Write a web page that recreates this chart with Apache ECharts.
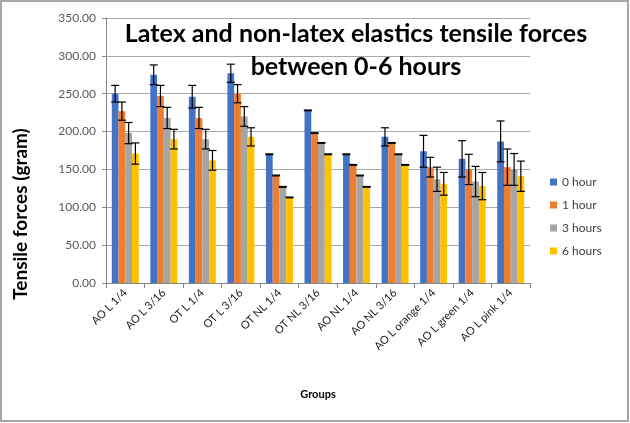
<!DOCTYPE html>
<html>
<head>
<meta charset="utf-8">
<script src="https://cdn.jsdelivr.net/npm/echarts@6/dist/echarts.min.js"></script>
<style>
  html, body { margin: 0; padding: 0; background: #fff; }
  #chart { width: 630px; height: 423px; }
</style>
</head>
<body>
<div id="chart"></div>
<script>
  // groups on the x axis
  var groups = ['AO L 1/4', 'AO L 3/16', 'OT L 1/4', 'OT L 3/16', 'OT NL 1/4', 'OT NL 3/16',
    'AO NL 1/4', 'AO NL 3/16', 'AO L orange 1/4', 'AO L green 1/4', 'AO L pink 1/4']

  var seriesNames = ['0 hour', '1 hour', '3 hours', '6 hours']

  // mean tensile force (gram)
  var hour0 = [250, 275, 246, 277, 170, 228, 170, 193, 174, 164, 187]
  var hour1 = [227, 247, 218, 250, 142, 198, 156, 185, 153, 150, 153]
  var hour3 = [198, 218, 190, 220, 127, 185, 142, 170, 137, 134, 150]
  var hour6 = [171, 190, 162, 193, 113, 170, 127, 156, 131, 128, 141]

  // standard deviation (error bars)
  var err0 = [11, 13, 15, 12, 0.5, 0.5, 0.5, 12, 21, 24, 27]
  var err1 = [12, 14, 14, 12, 0.5, 0.5, 0.5, 0.5, 13, 20, 24]
  var err3 = [14, 14, 13, 13, 0.5, 0.5, 0.5, 0.5, 16, 20, 21]
  var err6 = [14, 13, 13, 12, 0.5, 0.5, 0.5, 0.5, 15, 18, 20]

  var colors = ['#4472C4', '#ED7D31', '#A5A5A5', '#FFC000']
  var values = [hour0, hour1, hour3, hour6]
  var errors = [err0, err1, err3, err6]

  var GROUP_FRAC = 0.7

  function errorBar(idx) {
    return function (params, api) {
      var x = api.value(0)
      var v = api.value(1)
      var e = api.value(2)
      var band = api.size([1, 0])[0]
      var barW = band * GROUP_FRAC / 4
      var cx = api.coord([x, v])[0] - band * GROUP_FRAC / 2 + barW * (idx + 0.5)
      var top = api.coord([x, v + e])[1]
      var bot = api.coord([x, v - e])[1]
      var hw = 4
      var style = {stroke: '#000', lineWidth: 1.2}
      return {
        type: 'group',
        children: [
          {type: 'line', shape: {x1: cx, y1: top, x2: cx, y2: bot}, style: style},
          {type: 'line', shape: {x1: cx - hw, y1: top, x2: cx + hw, y2: top}, style: style},
          {type: 'line', shape: {x1: cx - hw, y1: bot, x2: cx + hw, y2: bot}, style: style}
        ]
      }
    }
  }

  var series = []
  values.forEach(function (vals, i) {
    series.push({
      name: seriesNames[i],
      type: 'bar',
      barGap: '0%',
      barCategoryGap: '30%',
      itemStyle: {color: colors[i]},
      data: vals,
      z: 2
    })
  })
  values.forEach(function (vals, i) {
    series.push({
      type: 'custom',
      renderItem: errorBar(i),
      encode: {x: 0, y: 1},
      data: vals.map(function (v, k) { return [k, v, errors[i][k]] }),
      z: 3,
      silent: true
    })
  })

  var chart = echarts.init(document.getElementById('chart'))
  chart.setOption({
    animation: false,
    textStyle: {fontFamily: 'Lato'},
    title: {
      text: 'Latex and non-latex elastics tensile forces\nbetween 0-6 hours',
      left: 356,
      top: 17,
      textAlign: 'center',
      padding: 0,
      z: 10,
      textStyle: {
        fontFamily: 'Lato',
        fontSize: 25,
        fontWeight: 'bold',
        color: '#000',
        lineHeight: 33,
        align: 'center'
      }
    },
    legend: {
      orient: 'vertical',
      left: 545,
      top: 171,
      icon: 'rect',
      itemWidth: 7,
      itemHeight: 7,
      itemGap: 11,
      data: seriesNames,
      textStyle: {fontSize: 12, color: '#404040', fontFamily: 'Lato'}
    },
    grid: {left: 106, right: 100, top: 18, bottom: 140},
    xAxis: {
      type: 'category',
      data: groups,
      axisLine: {lineStyle: {color: '#868686'}},
      axisTick: {show: true, length: 5, lineStyle: {color: '#868686'}},
      axisLabel: {rotate: 45, fontSize: 11, color: '#202020', margin: 8, interval: 0},
      name: 'Groups',
      nameLocation: 'middle',
      nameGap: 106,
      nameTextStyle: {fontSize: 11, fontWeight: 'bold', color: '#000'}
    },
    yAxis: {
      type: 'value',
      min: 0,
      max: 350,
      interval: 50,
      axisLine: {show: true, lineStyle: {color: '#868686'}},
      axisTick: {show: true, length: 4, lineStyle: {color: '#868686'}},
      splitLine: {lineStyle: {color: '#a9a9a9'}},
      axisLabel: {
        fontSize: 12,
        color: '#595959',
        margin: 10,
        formatter: function (v) { return v.toFixed(2) }
      }
    },
    graphic: [
      {
        type: 'text',
        x: 21,
        y: 214,
        rotation: Math.PI / 2,
        style: {
          text: 'Tensile forces (gram)',
          font: 'bold 19px Lato',
          fill: '#000',
          textAlign: 'center',
          textVerticalAlign: 'middle'
        }
      },
      {
        type: 'rect',
        shape: {x: 1, y: 1, width: 627, height: 420},
        style: {fill: 'none', stroke: '#a6a6a6', lineWidth: 2},
        silent: true
      }
    ],
    series: series
  })
</script>
</body>
</html>
